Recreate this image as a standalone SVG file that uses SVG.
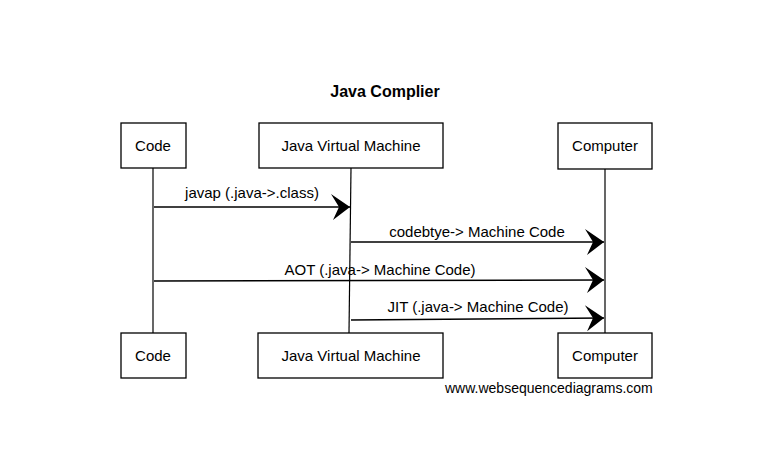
<svg xmlns="http://www.w3.org/2000/svg" width="757" height="460" viewBox="0 0 757 460">
<style>
.box{fill:#fff;stroke:#000;stroke-width:1.3}
.life{stroke:#000;stroke-width:1.2;fill:none}
.msg{stroke:#000;stroke-width:1.4;fill:none}
.t{font-family:"Liberation Sans",Arial,sans-serif;font-size:15px;fill:#000;text-anchor:middle}
.title{font-family:"Liberation Sans",Arial,sans-serif;font-size:16px;font-weight:bold;fill:#000;text-anchor:middle}
.wm{font-family:"Liberation Sans",Arial,sans-serif;font-size:14px;fill:#000}
</style>
<defs>
<marker id="ah" markerUnits="userSpaceOnUse" markerWidth="22" markerHeight="28" refX="20" refY="14" orient="auto">
<path d="M1,1 L20,14 L3,27 L9,14 Z" fill="#000"/>
</marker>
</defs>
<rect width="757" height="460" fill="#fff"/>
<text class="title" x="385" y="97">Java Complier</text>
<g id="lifelines">
<line class="life" x1="153" y1="168" x2="153" y2="333"/>
<line class="life" x1="351" y1="168" x2="349" y2="333"/>
<line class="life" x1="605" y1="169" x2="605" y2="333"/>
</g>
<g id="node-code-top"><rect class="box" x="121" y="123" width="65" height="45"/><text class="t" x="153" y="151">Code</text></g>
<g id="node-jvm-top"><rect class="box" x="259" y="123" width="184" height="45"/><text class="t" x="351" y="151">Java Virtual Machine</text></g>
<g id="node-computer-top"><rect class="box" x="558" y="123" width="94" height="46"/><text class="t" x="605" y="151">Computer</text></g>
<g id="node-code-bottom"><rect class="box" x="121" y="333" width="65" height="45"/><text class="t" x="153" y="361">Code</text></g>
<g id="node-jvm-bottom"><rect class="box" x="258" y="333" width="185" height="45"/><text class="t" x="351" y="361">Java Virtual Machine</text></g>
<g id="node-computer-bottom"><rect class="box" x="558" y="333" width="94" height="45"/><text class="t" x="605" y="361">Computer</text></g>
<g id="connectors">
<path class="msg" d="M154,207 L350,207" marker-end="url(#ah)"/>
<text class="t" x="252" y="198">javap (.java-&gt;.class)</text>
<path class="msg" d="M351,242 L604,242" marker-end="url(#ah)"/>
<text class="t" x="477" y="237">codebtye-&gt; Machine Code</text>
<path class="msg" d="M154,281 L604,280" marker-end="url(#ah)"/>
<text class="t" x="380" y="275">AOT (.java-&gt; Machine Code)</text>
<path class="msg" d="M351,320 L604,318" marker-end="url(#ah)"/>
<text class="t" x="478" y="312">JIT (.java-&gt; Machine Code)</text>
</g>
<text class="wm" x="445" y="393">www.websequencediagrams.com</text>
</svg>
